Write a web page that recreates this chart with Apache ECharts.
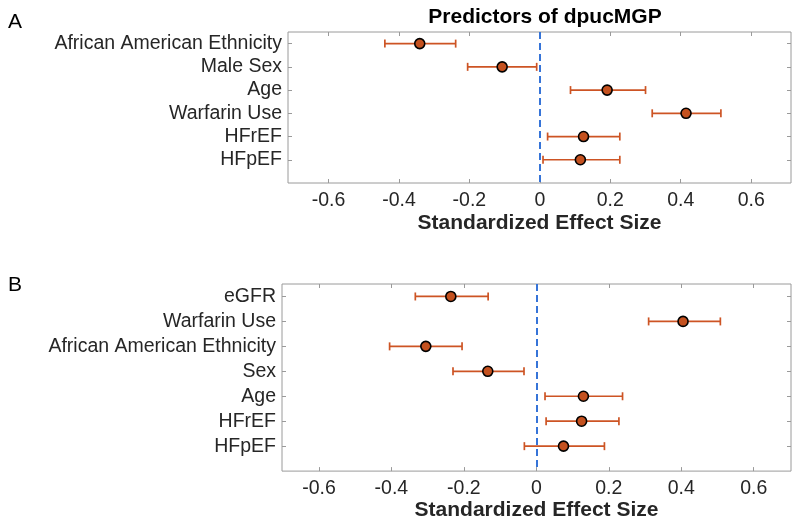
<!DOCTYPE html>
<html>
<head>
<meta charset="utf-8">
<script src="https://cdn.jsdelivr.net/npm/echarts@6/dist/echarts.min.js"></script>
<style>html,body{margin:0;background:#fff}#chart{width:800px;height:522px}</style>
</head>
<body>
<div id="chart"></div>
<script>
// panel A
var labelsA = ['African American Ethnicity', 'Male Sex', 'Age', 'Warfarin Use', 'HFrEF', 'HFpEF'];
var estA = [-0.341, -0.107, 0.191, 0.415, 0.124, 0.115];
var lowA = [-0.440, -0.205, 0.087, 0.319, 0.022, 0.009];
var highA = [-0.239, -0.009, 0.300, 0.514, 0.227, 0.227];
// panel B
var labelsB = ['eGFR', 'Warfarin Use', 'African American Ethnicity', 'Sex', 'Age', 'HFrEF', 'HFpEF'];
var estB = [-0.236, 0.405, -0.305, -0.134, 0.130, 0.125, 0.075];
var lowB = [-0.334, 0.310, -0.405, -0.230, 0.024, 0.027, -0.033];
var highB = [-0.133, 0.508, -0.205, -0.034, 0.238, 0.228, 0.188];
var xTicks = [-0.6, -0.4, -0.2, 0, 0.2, 0.4, 0.6];

var font = 'Liberation Sans';
var txt = '#262626';
var orange = '#CD5424';
var edge = '#9a9a9a';

function rowIdx(labels) {
  var r = [];
  for (var i = 0; i < labels.length; i++) r.push(i + 1);
  return r;
}

var xAxes = [], yAxes = [], series = [];

function addPanel(g, labels, est, low, high, xmin, xmax, nameGap) {
  var rows = rowIdx(labels);
  // bottom x axis
  xAxes.push({
    gridIndex: g, type: 'value', min: xmin, max: xmax, position: 'bottom',
    axisLine: {show: false, onZero: false}, splitLine: {show: false},
    axisTick: {inside: true, length: 4, lineStyle: {color: edge}, customValues: xTicks},
    axisLabel: {customValues: xTicks, color: txt, fontFamily: font, fontSize: 19.5, margin: 8,
      formatter: function (v) { return v === 0 ? '0' : String(Math.round(v * 10) / 10); }},
    name: 'Standardized Effect Size', nameLocation: 'middle', nameGap: nameGap,
    nameTextStyle: {color: txt, fontFamily: font, fontSize: 21, fontWeight: 'bold'}
  });
  // top mirror ticks
  xAxes.push({
    gridIndex: g, type: 'value', min: xmin, max: xmax, position: 'top',
    axisLine: {show: false, onZero: false}, splitLine: {show: false}, axisLabel: {show: false},
    axisTick: {inside: true, length: 4, lineStyle: {color: edge}, customValues: xTicks}
  });
  var ymax = labels.length + 1;
  yAxes.push({
    gridIndex: g, type: 'value', min: 0.5, max: ymax, inverse: true, position: 'left',
    axisLine: {show: false, onZero: false}, splitLine: {show: false},
    axisTick: {inside: true, length: 4, lineStyle: {color: edge}, customValues: rows},
    axisLabel: {customValues: rows, color: txt, fontFamily: font, fontSize: 19.5, margin: 6,
      formatter: function (v) { return labels[Math.round(v) - 1]; }}
  });
  yAxes.push({
    gridIndex: g, type: 'value', min: 0.5, max: ymax, inverse: true, position: 'right',
    axisLine: {show: false, onZero: false}, splitLine: {show: false}, axisLabel: {show: false},
    axisTick: {inside: true, length: 4, lineStyle: {color: edge}, customValues: rows}
  });
  var xi = g * 2, yi = g * 2;
  var errData = [], ptData = [];
  for (var i = 0; i < labels.length; i++) {
    errData.push([low[i], high[i], rows[i]]);
    ptData.push([est[i], rows[i]]);
  }
  series.push({
    type: 'custom', xAxisIndex: xi, yAxisIndex: yi, data: errData,
    encode: {x: [0, 1], y: 2}, silent: true, z: 2,
    renderItem: function (params, api) {
      var y = api.value(2);
      var a = api.coord([api.value(0), y]);
      var b = api.coord([api.value(1), y]);
      var c = 4;
      var st = {stroke: orange, lineWidth: 1.7};
      return {type: 'group', children: [
        {type: 'line', shape: {x1: a[0], y1: a[1], x2: b[0], y2: b[1]}, style: st},
        {type: 'line', shape: {x1: a[0], y1: a[1] - c, x2: a[0], y2: a[1] + c}, style: st},
        {type: 'line', shape: {x1: b[0], y1: b[1] - c, x2: b[0], y2: b[1] + c}, style: st}
      ]};
    }
  });
  series.push({
    type: 'scatter', xAxisIndex: xi, yAxisIndex: yi, data: ptData, z: 3,
    symbol: 'circle', symbolSize: 10,
    itemStyle: {color: '#C4511F', borderColor: '#000', borderWidth: 1.6, opacity: 1},
    markLine: {
      silent: true, symbol: 'none', label: {show: false},
      lineStyle: {color: '#3674D8', width: 2, type: [7, 4]},
      data: [{xAxis: 0}]
    }
  });
}

addPanel(0, labelsA, estA, lowA, highA, -0.715, 0.713, 30);
addPanel(1, labelsB, estB, lowB, highB, -0.702, 0.703, 27);

var chart = echarts.init(document.getElementById('chart'));
chart.setOption({
  backgroundColor: '#fff',
  animation: false,
  title: [
    {text: 'Predictors of dpucMGP', left: 540, top: 2, textAlign: 'center',
      textStyle: {fontFamily: font, fontSize: 21, fontWeight: 'bold', color: '#000'}},
    {text: 'A', left: 3, top: 7, textStyle: {fontFamily: font, fontSize: 21, fontWeight: 'normal', color: '#000'}},
    {text: 'B', left: 3, top: 270, textStyle: {fontFamily: font, fontSize: 21, fontWeight: 'normal', color: '#000'}}
  ],
  grid: [
    {left: 288, top: 32, width: 503, height: 151, show: true, borderColor: edge, borderWidth: 1, backgroundColor: '#fff'},
    {left: 282, top: 284, width: 509, height: 188, show: true, borderColor: edge, borderWidth: 1, backgroundColor: '#fff'}
  ],
  xAxis: xAxes,
  yAxis: yAxes,
  series: series
});
</script>
</body>
</html>
